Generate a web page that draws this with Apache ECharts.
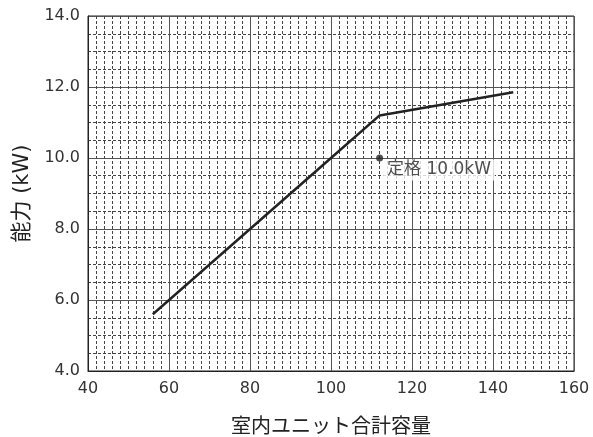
<!DOCTYPE html>
<html>
<head>
<meta charset="utf-8">
<script src="https://cdn.jsdelivr.net/npm/echarts@6/dist/echarts.min.js"></script>
<style>
  html, body { margin: 0; padding: 0; background: #fff; }
  #chart-container { width: 593px; height: 437px; }
</style>
</head>
<body>
<div id="chart-container"></div>
<script>
var dom = document.getElementById("chart-container");
var myChart = echarts.init(dom, null, { renderer: "canvas" });

// capacity curve (indoor unit total capacity -> kW)
var capacityX = [56, 100, 112, 145];
var capacityY = [5.6, 10.0, 11.2, 11.85];
// rated point
var ratedX = [112];
var ratedY = [10.0];
var ratedLabel = "定格 10.0kW";

var fontFamily = "'DejaVu Sans', 'Noto Sans CJK JP', sans-serif";

var lineData = capacityX.map(function (x, i) { return [x, capacityY[i]]; });
var ratedData = ratedX.map(function (x, i) { return [x, ratedY[i]]; });

var option = {
  backgroundColor: "#fff",
  animation: false,
  grid: {
    left: 88,
    right: 19,
    top: 16,
    bottom: 66,
    outerBoundsMode: "none",
    containLabel: false,
    show: true,
    borderColor: "#222",
    borderWidth: 1,
    backgroundColor: "transparent",
  },
  xAxis: {
    type: "value",
    min: 40,
    max: 160,
    interval: 20,
    name: "室内ユニット合計容量",
    nameLocation: "middle",
    nameGap: 47,
    nameTextStyle: { fontSize: 20, color: "#222", fontFamily: fontFamily },
    axisLine: { show: true, lineStyle: { color: "#222" } },
    axisTick: { show: false },
    axisLabel: { fontSize: 16, color: "#333", margin: 10, fontFamily: fontFamily },
    splitLine: { show: true, lineStyle: { color: "#555", width: 1 } },
    minorTick: { show: false, splitNumber: 10 },
    minorSplitLine: { show: true, lineStyle: { color: "#444", type: [3, 2], width: 1 } },
  },
  yAxis: {
    type: "value",
    min: 4,
    max: 14,
    interval: 2,
    name: "能力 (kW)",
    nameLocation: "middle",
    nameGap: 52,
    nameTextStyle: { fontSize: 21, color: "#222", fontFamily: fontFamily },
    axisLine: { show: true, lineStyle: { color: "#222" } },
    axisTick: { show: false },
    axisLabel: {
      fontSize: 16,
      color: "#333",
      margin: 8,
      fontFamily: fontFamily,
      formatter: function (v) { return v.toFixed(1); },
    },
    splitLine: { show: true, lineStyle: { color: "#555", width: 1 } },
    minorTick: { show: false, splitNumber: 4 },
    minorSplitLine: { show: true, lineStyle: { color: "#444", type: [3, 2], width: 1 } },
  },
  series: [
    {
      type: "line",
      data: lineData,
      symbol: "none",
      lineStyle: { color: "#222", width: 2.5 },
      z: 3,
    },
    {
      type: "scatter",
      data: ratedData,
      symbolSize: 7,
      itemStyle: { color: "#222" },
      label: {
        show: true,
        formatter: ratedLabel,
        position: [7, 5],
        fontSize: 17,
        color: "#222",
        fontFamily: fontFamily,
        backgroundColor: "#fff",
        padding: [2, 4, 2, 4],
      },
      z: 4,
    },
  ],
};

myChart.setOption(option);

window.addEventListener("resize", function () {
  myChart.resize();
});
</script>
</body>
</html>
